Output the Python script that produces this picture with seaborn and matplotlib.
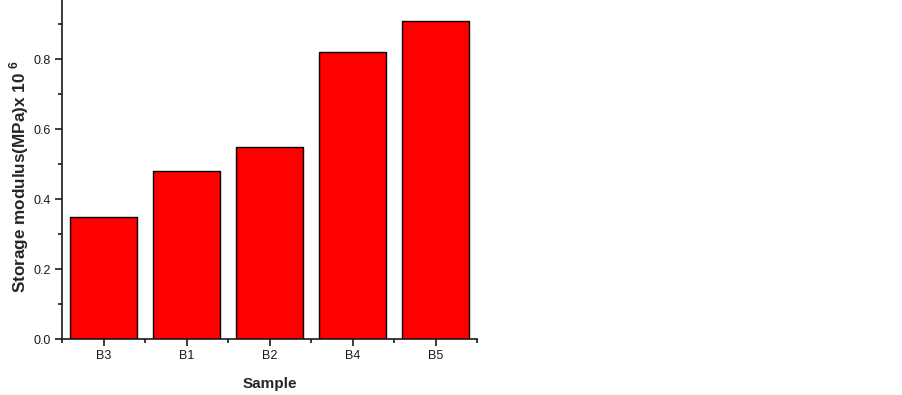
import matplotlib
matplotlib.use("Agg")
import matplotlib.pyplot as plt
from matplotlib.ticker import MultipleLocator, FixedLocator
import seaborn as sns
import pandas as pd

samples = ["B3", "B1", "B2", "B4", "B5"]
modulus = [0.35, 0.48, 0.55, 0.82, 0.91]

sns.set_style("ticks")
plt.rcParams['font.family'] = ['Liberation Sans', 'DejaVu Sans']
plt.rcParams['mathtext.fontset'] = 'custom'
plt.rcParams['mathtext.bf'] = 'Liberation Sans:bold'
plt.rcParams['mathtext.rm'] = 'Liberation Sans'

df = pd.DataFrame({"Sample": samples, "Modulus": modulus})

fig = plt.figure(figsize=(9.02, 3.95), dpi=100)
ax = fig.add_axes([62/902, 1 - 339/395, (477-62)/902, 339/395])
sns.barplot(data=df, x="Sample", y="Modulus", color="#ff0000", saturation=1,
            edgecolor="black", linewidth=1.0, width=0.8, ax=ax)

ax.set_xlim(-0.5, 4.5)
ax.set_ylim(0, 0.969)
ax.yaxis.set_major_locator(MultipleLocator(0.2))
ax.yaxis.set_minor_locator(MultipleLocator(0.1))
ax.xaxis.set_minor_locator(FixedLocator([-0.5, 0.5, 1.5, 2.5, 3.5, 4.5]))
ax.yaxis.set_major_formatter(matplotlib.ticker.FormatStrFormatter('%.1f'))
for s in ["top", "right"]:
    ax.spines[s].set_visible(False)
for s in ["left", "bottom"]:
    ax.spines[s].set_linewidth(1.2)
    ax.spines[s].set_color("#1a1a1a")
ax.tick_params(which="major", direction="out", length=5, width=1.2, labelsize=9, colors="#1a1a1a", pad=3)
ax.tick_params(which="minor", direction="out", length=3, width=1.2, colors="#1a1a1a")
ax.set_xlabel("Sample", fontsize=11, fontweight="bold", labelpad=11)
ax.set_ylabel("Storage modulus(MPa)x 10 $^{\\mathbf{6}}$", fontsize=12.3, fontweight="bold")
ax.yaxis.set_label_coords(-0.075, 0.48)

fig.savefig("out.png", dpi=100)
